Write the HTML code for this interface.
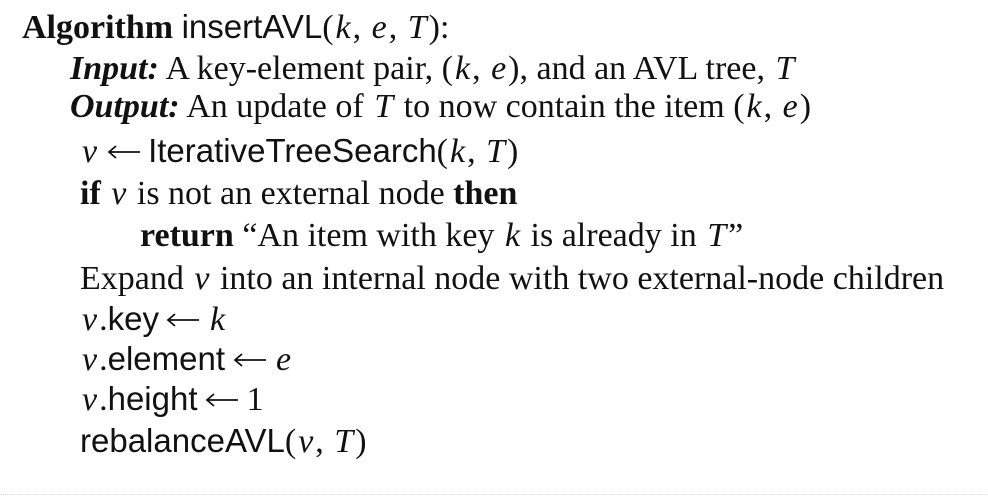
<!DOCTYPE html>
<html><head><meta charset="utf-8"><style>
body{margin:0;width:988px;height:500px;background:#fff;overflow:hidden;position:relative}
.l{position:absolute;font-family:"Liberation Serif",serif;font-size:34px;line-height:34px;white-space:nowrap;color:#111}
.s{font-family:"Liberation Sans",sans-serif;font-size:33px}
i.m{font-style:italic;padding:0 2px}
.a{display:inline-block;width:34px;height:16px;margin:0 -1px;vertical-align:2px}
</style></head><body>
<svg width="0" height="0" style="position:absolute"><symbol id="arr" viewBox="0 0 34 16"><path d="M33 8H2M9 2L2 8L9 14" fill="none" stroke="#111" stroke-width="1.8"/></symbol></svg>
<div class="l" style="left:22px;top:10px"><b>Algorithm</b> <span class="s">insertAVL</span>(<i class="m">k</i>, <i class="m">e</i>, <i class="m">T</i>):</div>
<div class="l" style="left:70px;top:52px"><b><i>Input:</i></b> A key-element pair, (<i class="m">k</i>, <i class="m">e</i>), and an AVL tree, <i class="m">T</i></div>
<div class="l" style="left:70px;top:90px"><b><i>Output:</i></b> An update of <i class="m">T</i> to now contain the item (<i class="m">k</i>, <i class="m">e</i>)</div>
<div class="l" style="left:80px;top:134px"><i class="m">v</i> <svg class="a"><use href="#arr"/></svg> <span class="s">IterativeTreeSearch</span>(<i class="m">k</i>, <i class="m">T</i>)</div>
<div class="l" style="left:80px;top:177px"><b>if</b> <i class="m">v</i> is not an external node <b>then</b></div>
<div class="l" style="left:140px;top:219px"><b>return</b> “An item with key <i class="m">k</i> is already in <i class="m">T</i>”</div>
<div class="l" style="left:80px;top:262px">Expand <i class="m">v</i> into an internal node with two external-node children</div>
<div class="l" style="left:80px;top:302px"><i class="m">v</i>.<span class="s">key</span> <svg class="a"><use href="#arr"/></svg> <i class="m">k</i></div>
<div class="l" style="left:80px;top:342px"><i class="m">v</i>.<span class="s">element</span> <svg class="a"><use href="#arr"/></svg> <i class="m">e</i></div>
<div class="l" style="left:80px;top:382px"><i class="m">v</i>.<span class="s">height</span> <svg class="a"><use href="#arr"/></svg> 1</div>
<div class="l" style="left:80px;top:424px"><span class="s">rebalanceAVL</span>(<i class="m">v</i>, <i class="m">T</i>)</div>
<div style="position:absolute;left:0;top:494px;width:988px;border-top:1px dotted #ddd"></div>
</body></html>
